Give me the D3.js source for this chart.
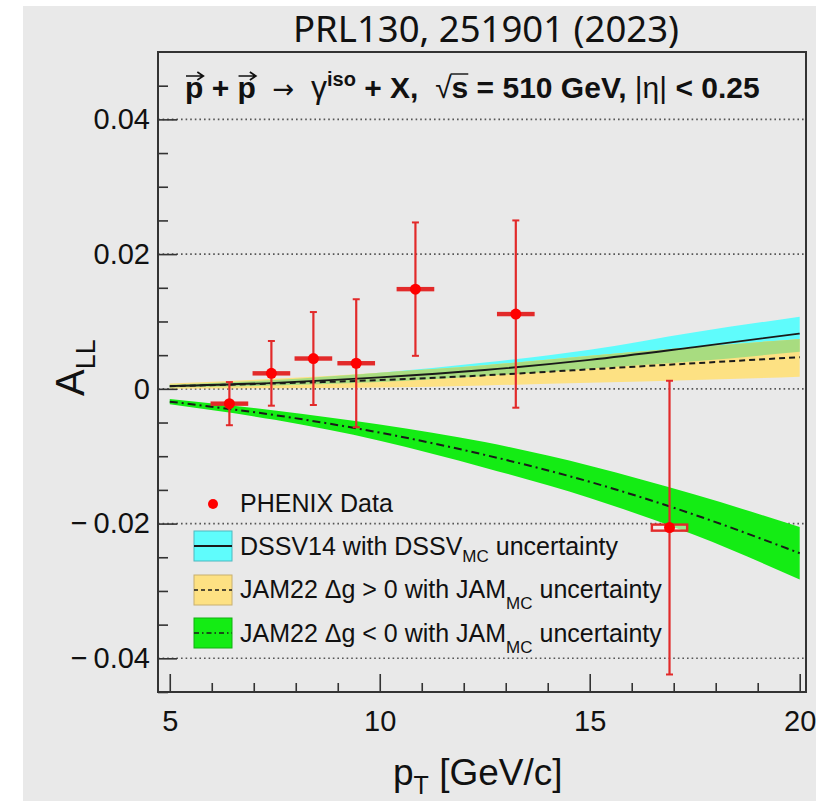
<!DOCTYPE html>
<html>
<head>
<meta charset="utf-8">
<script src="https://cdn.jsdelivr.net/npm/d3@7"></script>
<style>
  html, body { margin: 0; padding: 0; background: #ffffff; }
  svg { display: block; }
</style>
</head>
<body>
<script>
// ---- PHENIX isolated-photon A_LL measurement ----
const dataPt     = [6.42, 7.42, 8.42, 9.44, 10.85, 13.24, 16.90];
const dataAll    = [-0.0022, 0.0023, 0.0045, 0.0038, 0.0148, 0.0111, -0.0206];
const dataStat   = [0.0032, 0.0048, 0.0069, 0.0095, 0.0099, 0.0139, 0.0218];
const dataSys    = [0.00015, 0.00015, 0.00015, 0.00015, 0.00015, 0.00015, 0.00045];
const dataBinHalf = [0.42, 0.42, 0.42, 0.42, 0.42, 0.42, 0.42];

// ---- theory curves on a common pT grid ----
const thPt    = [5, 7.5, 10, 12.5, 15, 17.5, 20];
const dssvMid = [0.0004, 0.0009, 0.0017, 0.0028, 0.0043, 0.0062, 0.0082];
const dssvLo  = [0.0002, 0.0005, 0.0010, 0.0019, 0.0030, 0.0041, 0.0055];
const dssvHi  = [0.0006, 0.0013, 0.0024, 0.0039, 0.0058, 0.0084, 0.0107];
const jamPMid = [0.0004, 0.0008, 0.0013, 0.0020, 0.0029, 0.0038, 0.0047];
const jamPLo  = [0.0000, 0.0001, 0.0002, 0.0005, 0.0009, 0.0013, 0.0018];
const jamPHi  = [0.0008, 0.0015, 0.0024, 0.0035, 0.0049, 0.0062, 0.0074];
const jamMMid = [-0.0019, -0.0039, -0.0065, -0.0098, -0.0138, -0.0187, -0.0244];
const jamMLo  = [-0.0023, -0.0046, -0.0077, -0.0117, -0.0162, -0.0217, -0.0283];
const jamMHi  = [-0.0015, -0.0032, -0.0053, -0.0079, -0.0114, -0.0157, -0.0205];

// ---- axis ticks ----
const xMajor = [5, 10, 15, 20];
const xMinor = [6, 7, 8, 9, 11, 12, 13, 14, 16, 17, 18, 19];
const yMajor = [-0.04, -0.02, 0, 0.02, 0.04];
const yMinor = [-0.045, -0.035, -0.03, -0.025, -0.015, -0.01, -0.005,
                0.005, 0.01, 0.015, 0.025, 0.03, 0.035, 0.045];

const titleText = "PRL130, 251901 (2023)";
const legendRows = [
  { pre: "DSSV14 with DSSV", sub: "MC", post: " uncertainty" },
  { pre: "JAM22 \u0394g > 0 with JAM", sub: "MC", post: " uncertainty" },
  { pre: "JAM22 \u0394g < 0 with JAM", sub: "MC", post: " uncertainty" }
];

const W = 816, H = 801;
const frame = { left: 158, right: 806, top: 52, bottom: 692 };
const FONT = "'Liberation Sans', Arial, Helvetica, sans-serif";
const INK = "#111111";
const C = {
  bg: "#e9e9e9", cyan: "#5ffcfc", yellow: "#fde183", overlap: "#a8dc80",
  green: "#14ec14", red: "#ff0000", err: "#e22a2a", frame: "#333333"
};

const svg = d3.select("body").append("svg").attr("width", W).attr("height", H);
svg.append("rect").attr("x", 23).attr("y", 6).attr("width", W - 23).attr("height", H - 6).attr("fill", C.bg);

const x = d3.scaleLinear().domain([4.72, 20.15]).range([frame.left, frame.right]);
const y = d3.scaleLinear().domain([-0.045, 0.05]).range([frame.bottom, frame.top]);

// title
svg.append("text").attr("x", 486).attr("y", 42).attr("text-anchor", "middle")
  .attr("font-family", "'Noto Sans', 'Open Sans', sans-serif").attr("font-size", 36.5)
  .attr("fill", INK).text(titleText);

// dotted grid lines at major y values
svg.append("g").selectAll("line").data(yMajor).join("line")
  .attr("x1", frame.left).attr("x2", frame.right)
  .attr("y1", d => y(d)).attr("y2", d => y(d))
  .attr("stroke", "#555").attr("stroke-width", 1.6).attr("stroke-dasharray", "1.6,3");

// theory bands
const idx = d3.range(thPt.length);
const band = (lo, hi) => d3.area().curve(d3.curveMonotoneX)
  .x(i => x(thPt[i])).y0(i => y(lo[i])).y1(i => y(hi[i]));
const line = (v) => d3.line().curve(d3.curveMonotoneX).x(i => x(thPt[i])).y(i => y(v[i]));
const ovLo = idx.map(i => Math.max(dssvLo[i], jamPLo[i]));
const ovHi = idx.map(i => Math.min(dssvHi[i], jamPHi[i]));

const gTh = svg.append("g");
gTh.append("path").attr("d", band(jamMLo, jamMHi)(idx)).attr("fill", C.green);
gTh.append("path").attr("d", band(dssvLo, dssvHi)(idx)).attr("fill", C.cyan);
gTh.append("path").attr("d", band(jamPLo, jamPHi)(idx)).attr("fill", C.yellow);
gTh.append("path").attr("d", band(ovLo, ovHi)(idx)).attr("fill", C.overlap);
gTh.append("path").attr("d", line(dssvMid)(idx)).attr("fill", "none")
  .attr("stroke", "#1a1a1a").attr("stroke-width", 1.8);
gTh.append("path").attr("d", line(jamPMid)(idx)).attr("fill", "none")
  .attr("stroke", "#1a1a1a").attr("stroke-width", 2).attr("stroke-dasharray", "6,4");
gTh.append("path").attr("d", line(jamMMid)(idx)).attr("fill", "none")
  .attr("stroke", "#1a1a1a").attr("stroke-width", 2).attr("stroke-dasharray", "8,4,2,4");

// data points
const pts = dataPt.map((p, i) => ({ p, a: dataAll[i], e: dataStat[i], s: dataSys[i], h: dataBinHalf[i] }));
const gD = svg.append("g");
gD.selectAll(".ebar").data(pts).join("line")
  .attr("x1", d => x(d.p)).attr("x2", d => x(d.p))
  .attr("y1", d => y(d.a + d.e)).attr("y2", d => y(d.a - d.e))
  .attr("stroke", C.err).attr("stroke-width", 2.2);
[1, -1].forEach(sg => {
  gD.selectAll(".cap" + sg).data(pts).join("line")
    .attr("x1", d => x(d.p) - 3.5).attr("x2", d => x(d.p) + 3.5)
    .attr("y1", d => y(d.a + sg * d.e)).attr("y2", d => y(d.a + sg * d.e))
    .attr("stroke", C.err).attr("stroke-width", 2);
});
gD.selectAll(".sys").data(pts).join("rect")
  .attr("x", d => x(d.p - d.h)).attr("width", d => x(d.p + d.h) - x(d.p - d.h))
  .attr("y", d => y(d.a + d.s)).attr("height", d => y(d.a - d.s) - y(d.a + d.s))
  .attr("fill", "rgba(255,240,240,0.55)").attr("stroke", C.err).attr("stroke-width", 2.4);
gD.selectAll("circle").data(pts).join("circle")
  .attr("cx", d => x(d.p)).attr("cy", d => y(d.a)).attr("r", 5.5).attr("fill", C.red);

// axes (ticks point inward)
const styleAxis = g => {
  g.select(".domain").remove();
  g.selectAll(".tick line").attr("stroke", C.frame).attr("stroke-width", 1.6);
  g.selectAll(".tick text").attr("fill", INK).attr("font-family", FONT).attr("font-size", 29);
};
svg.append("g").attr("transform", `translate(0,${frame.bottom})`)
  .call(d3.axisBottom(x).tickValues(xMajor).tickSize(-18).tickPadding(18).tickFormat(d3.format("d")))
  .call(styleAxis);
svg.append("g").attr("transform", `translate(0,${frame.bottom})`)
  .call(d3.axisBottom(x).tickValues(xMinor).tickSize(-9).tickFormat(""))
  .call(styleAxis);
const yFmt = d => d === 0 ? "0" : (d < 0 ? "\u2212\u2009" : "") + Math.abs(d).toFixed(2);
svg.append("g").attr("transform", `translate(${frame.left},0)`)
  .call(d3.axisLeft(y).tickValues(yMajor).tickSize(-19).tickPadding(8).tickFormat(yFmt))
  .call(styleAxis);
svg.append("g").attr("transform", `translate(${frame.left},0)`)
  .call(d3.axisLeft(y).tickValues(yMinor).tickSize(-10).tickFormat(""))
  .call(styleAxis);

// frame
svg.append("rect").attr("x", frame.left).attr("y", frame.top)
  .attr("width", frame.right - frame.left).attr("height", frame.bottom - frame.top)
  .attr("fill", "none").attr("stroke", C.frame).attr("stroke-width", 2);

// reaction label inside the frame
const pieces = [
  { t: "p", arrow: true }, { t: " + " }, { t: "p", arrow: true },
  { t: "  " }, { t: "\u2192", w: "normal", f: "'DejaVu Sans', sans-serif", fs: 26 }, { t: "  " },
  { t: "\u03b3", w: "normal", fs: 32 },
  { t: "iso", sup: true }, { t: " + X,  " },
  { t: "\u221a", w: "normal" }, { t: "s", over: true },
  { t: " = 510 GeV, " }, { t: "|\u03b7|", w: "normal" }, { t: " < 0.25" }
];
const RB = 98;
const rt = svg.append("text").attr("x", 185).attr("y", RB)
  .attr("font-family", FONT).attr("font-size", 30).attr("font-weight", "bold")
  .attr("fill", INK).style("white-space", "pre");
let ci = 0, prevSup = false;
pieces.forEach(pc => {
  const ts = rt.append("tspan").text(pc.t);
  if (pc.w) ts.attr("font-weight", pc.w);
  if (pc.f) ts.attr("font-family", pc.f);
  if (pc.fs) ts.attr("font-size", pc.fs);
  if (pc.sup) { ts.attr("font-size", 20).attr("dy", -12); }
  else if (prevSup) { ts.attr("dy", 12); }
  prevSup = !!pc.sup;
  pc.start = ci; ci += pc.t.length;
});
const rn = rt.node();
pieces.forEach(pc => {
  if (pc.arrow) {
    const x0 = rn.getStartPositionOfChar(pc.start).x + 1;
    const x1 = rn.getEndPositionOfChar(pc.start).x;
    const ay = RB - 22;
    svg.append("path").attr("d", `M${x0},${ay} L${x1},${ay} M${x1 - 6},${ay - 4} L${x1},${ay} L${x1 - 6},${ay + 4}`)
      .attr("fill", "none").attr("stroke", INK).attr("stroke-width", 1.7);
  }
  if (pc.over) {
    const x0 = rn.getStartPositionOfChar(pc.start).x;
    const x1 = rn.getEndPositionOfChar(pc.start).x;
    svg.append("line").attr("x1", x0 - 1).attr("x2", x1).attr("y1", RB - 24).attr("y2", RB - 24)
      .attr("stroke", INK).attr("stroke-width", 1.4);
  }
});

// axis titles
const xt = svg.append("text").attr("x", 393).attr("y", 785)
  .attr("font-family", FONT).attr("font-size", 37).attr("fill", INK);
xt.append("tspan").text("p");
xt.append("tspan").attr("font-size", 25).attr("dy", 9).text("T");
xt.append("tspan").attr("dy", -9).text(" [GeV/c]");

const yt = svg.append("text").attr("transform", "translate(84,396) rotate(-90)")
  .attr("font-family", FONT).attr("font-size", 40).attr("fill", INK);
yt.append("tspan").text("A");
yt.append("tspan").attr("font-size", 27).attr("dy", 11).text("LL");

// legend
const LFS = 25;
const lg = svg.append("g");
lg.append("circle").attr("cx", 213).attr("cy", 504).attr("r", 5).attr("fill", C.red);
lg.append("text").attr("x", 240).attr("y", 512).attr("font-family", FONT).attr("font-size", LFS)
  .attr("fill", INK).text("PHENIX Data");
const swFill = [C.cyan, C.yellow, C.green];
const swStroke = ["#4fb8c0", "#c8b070", "#10b010"];
const swDash = [null, "4,3", "5,3,1.5,3"];
const swTop = [531, 575, 618];
const txtBase = [555, 598, 641.5];
legendRows.forEach((r, i) => {
  lg.append("rect").attr("x", 194).attr("y", swTop[i]).attr("width", 38).attr("height", 30)
    .attr("fill", swFill[i]).attr("stroke", swStroke[i]).attr("stroke-width", 1);
  const ln = lg.append("line").attr("x1", 194).attr("x2", 232)
    .attr("y1", swTop[i] + 15).attr("y2", swTop[i] + 15)
    .attr("stroke", "#1a1a1a").attr("stroke-width", i === 0 ? 2 : 1.6);
  if (swDash[i]) ln.attr("stroke-dasharray", swDash[i]);
  const t = lg.append("text").attr("x", 240).attr("y", txtBase[i])
    .attr("font-family", FONT).attr("font-size", LFS).attr("fill", INK);
  t.append("tspan").text(r.pre);
  t.append("tspan").attr("font-size", 17).attr("dy", i === 0 ? 7 : 11).text(r.sub);
  t.append("tspan").attr("dy", i === 0 ? -7 : -11).text(r.post);
});
</script>
</body>
</html>
